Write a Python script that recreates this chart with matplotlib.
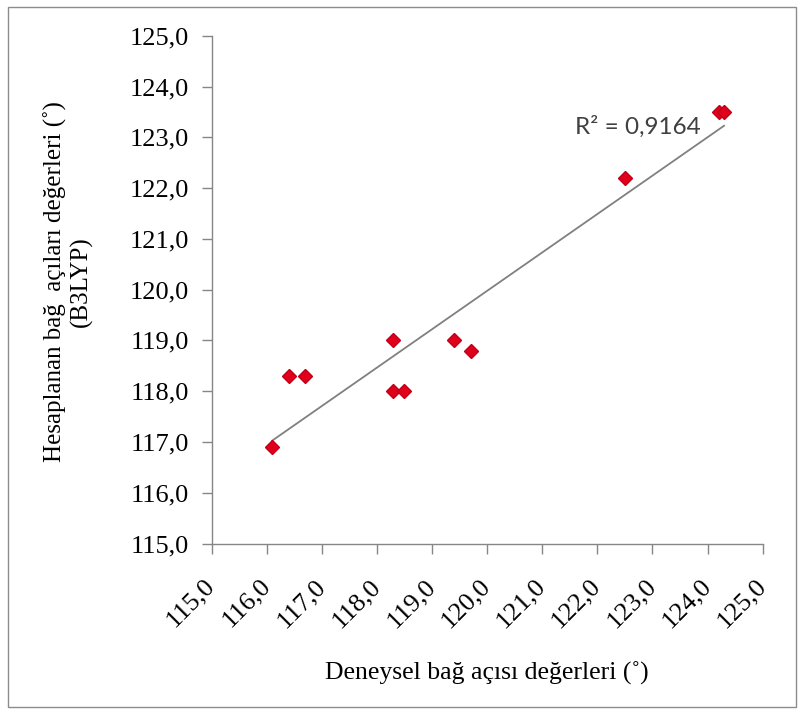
import numpy as np
import matplotlib
matplotlib.use("Agg")
import matplotlib.pyplot as plt
from matplotlib.patches import Rectangle
from matplotlib.ticker import FuncFormatter, MultipleLocator

# experimental vs calculated bond angles (deg)
deneysel = [116.1, 116.4, 116.7, 118.3, 118.3, 118.5, 119.4, 119.7, 122.5, 124.2, 124.3]
hesaplanan = [116.9, 118.3, 118.3, 119.0, 118.0, 118.0, 119.0, 118.8, 122.2, 123.5, 123.5]
r2_text = "R² = 0,9164"
x_label = "Deneysel bağ açısı değerleri (˚)"
y_label = "Hesaplanan bağ  açıları değerleri (˚)\n(B3LYP)"

serif = ["Liberation Serif", "DejaVu Serif"]
axis_gray = "#868686"

fig = plt.figure(figsize=(8.0, 7.13), dpi=100)
ax = fig.add_axes([0.2644, 0.2376, 0.6889, 0.7123])

ax.plot(deneysel, hesaplanan, linestyle="none", marker="D", markersize=7,
        color="#e0001b", markeredgecolor="#c00018", zorder=3)

# linear trend line over data range
k, b = np.polyfit(deneysel, hesaplanan, 1)
xs = np.array([min(deneysel), max(deneysel)])
ax.plot(xs, k * xs + b, color="#808080", linewidth=1.3, zorder=2)

ax.text(121.6, 123.2, r2_text, fontsize=17.5, family=["Lato", "DejaVu Sans"],
        color="#404040", ha="left", va="center")

ax.set_xlim(115, 125)
ax.set_ylim(115, 125)
ax.xaxis.set_major_locator(MultipleLocator(1))
ax.yaxis.set_major_locator(MultipleLocator(1))
fmt = FuncFormatter(lambda v, p: f"{v:.1f}".replace(".", ","))
ax.xaxis.set_major_formatter(fmt)
ax.yaxis.set_major_formatter(fmt)

for s in ["top", "right"]:
    ax.spines[s].set_visible(False)
for s in ["left", "bottom"]:
    ax.spines[s].set_color(axis_gray)
    ax.spines[s].set_linewidth(1.0)

ax.tick_params(axis="both", direction="out", length=7, width=1.0, color=axis_gray)
ax.tick_params(axis="y", pad=9)
ax.tick_params(axis="x", pad=21)
for lab in ax.get_yticklabels():
    lab.set_fontfamily(serif)
    lab.set_fontsize(19)
for lab in ax.get_xticklabels():
    lab.set_fontfamily(serif)
    lab.set_fontsize(19)
    lab.set_rotation(45)
    lab.set_ha("right")
    lab.set_va("center")
    lab.set_rotation_mode("anchor")

fig.text(487 / 800, 1 - 673 / 713, x_label, fontsize=18.5, family=serif,
         ha="center", va="center")
fig.text(68 / 800, 1 - 282 / 713, y_label, fontsize=18, family=serif,
         rotation=90, ha="center", va="center", multialignment="center",
         linespacing=1.15)

# outer frame
fig.patches.append(Rectangle((0.01, 0.009), 0.985, 0.981, transform=fig.transFigure,
                             fill=False, edgecolor="#8c8c8c", linewidth=1.0))

fig.savefig("out.png", dpi=100)
